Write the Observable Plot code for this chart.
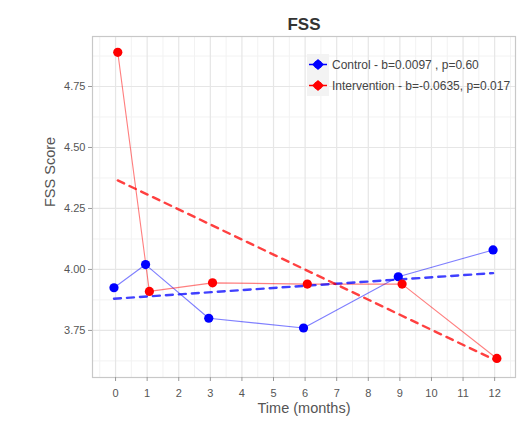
<!DOCTYPE html>
<html>
<head>
<meta charset="utf-8">
<script src="https://cdn.jsdelivr.net/npm/d3@7"></script>
<script src="https://cdn.jsdelivr.net/npm/@observablehq/plot@0.6"></script>
<style>
  body { margin: 0; background: #fff; font-family: "Liberation Sans", Arial, sans-serif; }
  #wrap { position: relative; width: 519px; height: 424px; }
  #legend { position: absolute; left: 307px; top: 54px; font-size: 12px; color: #444; white-space: nowrap; }
  .item { display: flex; align-items: center; height: 21px; }
  .key { width: 22px; height: 21px; background: #f3f3f3; margin-right: 3px; }
</style>
</head>
<body>
<div id="wrap"></div>
<script>
const months = [0, 1, 3, 6, 9, 12];
const control = [3.925, 4.02, 3.80, 3.76, 3.97, 4.08];
const intervention = [4.89, 3.91, 3.945, 3.94, 3.94, 3.635];
const trendMonths = [0, 12];
const controlTrend = [3.88, 3.985];
const interventionTrend = [4.365, 3.625];
const xTicks = [0, 1, 2, 3, 4, 5, 6, 7, 8, 9, 10, 11, 12];
const yTicks = [3.75, 4.00, 4.25, 4.50, 4.75];
const groups = ["Control", "Intervention"];
const legendLabels = ["Control - b=0.0097 , p=0.60", "Intervention - b=-0.0635, p=0.017"];
const colors = ["#0000ff", "#ff0000"];

const dodge = {Control: -0.05, Intervention: 0.07};
const pts = [];
months.forEach((m, i) => {
  pts.push({g: "Control", x: m + dodge.Control, y: control[i]});
  pts.push({g: "Intervention", x: m + dodge.Intervention, y: intervention[i]});
});
const trend = [];
trendMonths.forEach((m, i) => {
  trend.push({g: "Control", x: m + dodge.Control, y: controlTrend[i]});
  trend.push({g: "Intervention", x: m + dodge.Intervention, y: interventionTrend[i]});
});
const minorX = d3.range(-0.5, 13, 1);
const minorY = d3.range(3.625, 4.95, 0.25);

const chart = Plot.plot({
  width: 519, height: 424,
  marginLeft: 92, marginRight: 4, marginTop: 36, marginBottom: 47,
  style: {fontFamily: "Liberation Sans, Arial, sans-serif", background: "#fff"},
  x: {domain: [-0.73, 12.66], ticks: xTicks, tickSize: 4, label: null, tickFormat: d => String(d)},
  y: {domain: [3.557, 4.955], ticks: yTicks, tickSize: 4, label: null, tickFormat: d => d.toFixed(2)},
  color: {domain: groups, range: colors},
  marks: [
    Plot.gridX(minorX, {stroke: "#f2f2f2", strokeOpacity: 1, strokeWidth: 1}),
    Plot.gridY(minorY, {stroke: "#f2f2f2", strokeOpacity: 1, strokeWidth: 1}),
    Plot.gridX(xTicks, {stroke: "#e6e6e6", strokeOpacity: 1, strokeWidth: 1.2}),
    Plot.gridY(yTicks, {stroke: "#e6e6e6", strokeOpacity: 1, strokeWidth: 1.2}),
    Plot.frame({stroke: "#c8c8c8", strokeWidth: 1.2}),
    Plot.axisX({ticks: xTicks, tickSize: 4, stroke: "#999", fill: "#555", fontSize: 11, tickPadding: 8, label: null}),
    Plot.axisY({ticks: yTicks, tickSize: 4, stroke: "#999", fill: "#555", fontSize: 11, tickPadding: 3, label: null, tickFormat: d => d.toFixed(2)}),
    Plot.line(pts, {x: "x", y: "y", z: "g", stroke: "g", strokeWidth: 1.1, strokeOpacity: 0.5}),
    Plot.line(trend, {x: "x", y: "y", z: "g", stroke: "g", strokeWidth: 2.4, strokeDasharray: "7,6", strokeOpacity: 0.75}),
    Plot.dot(pts, {x: "x", y: "y", fill: "g", r: 4.6}),
    Plot.text(["FSS"], {frameAnchor: "top", lineAnchor: "middle", dy: -12, fontSize: 17, fontWeight: "bold", fill: "#333"}),
    Plot.text(["Time (months)"], {frameAnchor: "bottom", lineAnchor: "middle", dy: 31, fontSize: 14.5, fill: "#555"}),
    Plot.text(["FSS Score"], {frameAnchor: "left", dx: -42, rotate: -90, fontSize: 14.5, fill: "#555"})
  ]
});
document.getElementById("wrap").appendChild(chart);

const legend = document.createElement("div");
legend.id = "legend";
groups.forEach((g, i) => {
  const item = document.createElement("div");
  item.className = "item";
  item.innerHTML = `<div class="key"><svg width="22" height="21"><line x1="2" x2="20" y1="10.5" y2="10.5" stroke="${colors[i]}" stroke-width="1.5"/><path d="M11,5 L17,10.5 L11,16 L5,10.5 Z" fill="${colors[i]}"/><circle cx="11" cy="10.5" r="4" fill="${colors[i]}"/></svg></div><span>${legendLabels[i]}</span>`;
  legend.appendChild(item);
});
document.getElementById("wrap").appendChild(legend);
</script>
</body>
</html>
